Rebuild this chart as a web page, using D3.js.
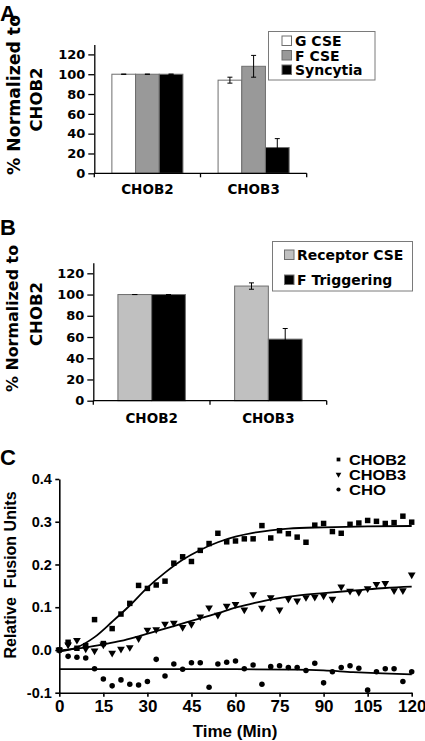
<!DOCTYPE html>
<html><head><meta charset="utf-8">
<script src="https://cdn.jsdelivr.net/npm/d3@7"></script>
<style>body{margin:0;background:#fff} svg{display:block}</style>
</head><body>
<svg id="c" width="425" height="741"></svg>
<script>
// ---------- Panel A data ----------
const catsA = ["CHOB2", "CHOB3"];
const seriesA = ["G CSE", "F CSE", "Syncytia"];
const gCSE = [100, 94];
const gCSEerr = [0, 3];
const fCSE = [100, 108];
const fCSEerr = [0, 11];
const syncytia = [100, 26];
const syncytiaErr = [0, 9];
const colorsA = ["#ffffff", "#999999", "#000000"];
const barTicks = [0, 20, 40, 60, 80, 100, 120];

// ---------- Panel B data ----------
const catsB = ["CHOB2", "CHOB3"];
const seriesB = ["Receptor CSE", "F Triggering"];
const receptorCSE = [100, 108];
const receptorErr = [0, 3];
const fTriggering = [100, 58];
const fTriggeringErr = [0, 10];
const colorsB = ["#c0c0c0", "#000000"];

// ---------- Panel C data ----------
const timeMin = [0,3,6,9,12,15,18,21,24,27,30,33,36,39,42,45,48,51,54,57,60,63,66,69,72,75,78,81,84,87,90,93,96,99,102,105,108,111,114,117,120];
const chob2 = [0.000,0.018,0.004,0.010,0.071,0.015,0.050,0.084,0.109,0.151,0.144,0.152,0.161,0.203,0.218,0.207,0.233,0.249,0.273,0.253,0.255,0.260,0.260,0.291,0.262,0.279,0.272,0.264,0.252,0.292,0.296,0.277,0.273,0.294,0.297,0.303,0.301,0.296,0.298,0.313,0.299];
const chob3 = [0.000,0.012,0.023,0.003,-0.002,0.012,-0.007,0.002,0.006,0.027,0.047,0.048,0.061,0.063,0.053,0.060,0.078,0.099,0.082,0.103,0.107,0.094,0.130,0.098,0.123,0.094,0.119,0.115,0.123,0.124,0.127,0.119,0.148,0.138,0.135,0.144,0.154,0.156,0.139,0.139,0.176];
const cho = [0.000,-0.015,-0.017,-0.019,-0.044,-0.068,-0.084,-0.070,-0.080,-0.082,-0.074,-0.022,-0.061,-0.033,-0.045,-0.030,-0.030,-0.087,-0.033,-0.029,-0.026,-0.044,-0.035,-0.080,-0.039,-0.037,-0.041,-0.041,-0.048,-0.031,-0.077,-0.051,-0.041,-0.037,-0.043,-0.094,-0.051,-0.044,-0.044,-0.074,-0.051];
// fitted curves
const fitTime2 = [0,6,12,18,24,30,36,42,48,54,60,66,72,78,90,105,120];
const fit2 = [-0.004,0.006,0.030,0.066,0.104,0.146,0.181,0.211,0.234,0.252,0.265,0.274,0.280,0.284,0.287,0.289,0.290];
const fitTime3 = [0,9,15,21,27,33,39,48,54,60,66,72,81,90,102,111,120];
const fit3 = [-0.001,0.006,0.013,0.021,0.032,0.044,0.056,0.074,0.086,0.099,0.109,0.118,0.127,0.133,0.140,0.145,0.148];
const fitTime1 = [0,60,80,90,100,110,120];
const fit1 = [-0.045,-0.045,-0.046,-0.048,-0.052,-0.055,-0.057];
const seriesC = ["CHOB2", "CHOB3", "CHO"];
const yTicksC = [-0.1, 0.0, 0.1, 0.2, 0.3, 0.4];
const xTicksC = [0, 15, 30, 45, 60, 75, 90, 105, 120];

const svg = d3.select("#c");
const FB = "'DejaVu Sans', Verdana, sans-serif";
const FA = "'Liberation Sans', Arial, sans-serif";

// ---------- generic bar panel ----------
function barPanel(o) {
  const g = svg.append("g");
  const y = d3.scaleLinear().domain([0, 130]).range([o.y0, o.yTop]);
  const x0 = d3.scaleBand().domain(o.cats).range([o.xL, o.xR]).paddingInner(o.pad).paddingOuter(o.pad / 2);
  const x1 = d3.scaleBand().domain(o.series).range([0, x0.bandwidth()]);
  // bars
  o.series.forEach((s, si) => {
    const vals = o.values[si], errs = o.errs[si];
    o.cats.forEach((c, ci) => {
      const bx = x0(c) + x1(s);
      g.append("rect")
        .attr("x", bx).attr("y", y(vals[ci]))
        .attr("width", x1.bandwidth()).attr("height", y(0) - y(vals[ci]))
        .attr("fill", o.colors[si]).attr("stroke", "#6e6e6e").attr("stroke-width", 1);
      const cx = bx + x1.bandwidth() / 2;
      const hi = y(vals[ci] + errs[ci]), lo = y(vals[ci] - errs[ci]);
      const eg = g.append("g").attr("stroke", "#000").attr("stroke-width", 1);
      eg.append("line").attr("x1", cx).attr("x2", cx).attr("y1", hi).attr("y2", lo);
      eg.append("line").attr("x1", cx - 2.5).attr("x2", cx + 2.5).attr("y1", hi).attr("y2", hi);
      eg.append("line").attr("x1", cx - 2.5).attr("x2", cx + 2.5).attr("y1", lo).attr("y2", lo);
    });
  });
  // y axis
  const ya = g.append("g").attr("transform", `translate(${o.xL},0)`)
    .call(d3.axisLeft(y).tickValues(barTicks).tickSize(6).tickSizeOuter(0).tickPadding(3));
  ya.select(".domain").attr("stroke", "#000").attr("stroke-width", 1.3);
  ya.selectAll(".tick line").attr("stroke", "#000").attr("stroke-width", 1.3);
  ya.selectAll("text").attr("font-family", FB).attr("font-weight", "bold").attr("font-size", 13).attr("fill", "#000");
  // x axis
  g.append("line").attr("x1", o.xL).attr("x2", o.xR).attr("y1", y(0)).attr("y2", y(0))
    .attr("stroke", "#000").attr("stroke-width", 1.3);
  for (let i = 0; i <= o.cats.length; i++) {
    const bx = o.xL + i * x0.step();
    g.append("line").attr("x1", bx).attr("x2", bx).attr("y1", y(0)).attr("y2", y(0) + 4)
      .attr("stroke", "#000").attr("stroke-width", 1.3);
  }
  o.cats.forEach(c => {
    g.append("text").attr("x", x0(c) + x0.bandwidth() / 2).attr("y", o.catY)
      .attr("text-anchor", "middle").attr("font-family", FB).attr("font-weight", "bold")
      .attr("font-size", 13.5).text(c);
  });
  // y label
  o.ylab.forEach(l => {
    g.append("text").attr("transform", `translate(${l.x},${l.y}) rotate(-90)`)
      .attr("text-anchor", "middle").attr("font-family", FB).attr("font-weight", "bold")
      .attr("font-size", l.fs).text(l.t);
  });
  // legend
  const L = o.legend;
  g.append("rect").attr("x", L.x).attr("y", L.y).attr("width", L.w).attr("height", L.h)
    .attr("fill", "#fff").attr("stroke", "#7a7a7a").attr("stroke-width", 1);
  o.series.forEach((s, si) => {
    const cy = L.rows[si];
    g.append("rect").attr("x", L.sx).attr("y", cy - 5).attr("width", 9.5).attr("height", 9.5)
      .attr("fill", o.colors[si]).attr("stroke", "#6e6e6e").attr("stroke-width", 1);
    g.append("text").attr("x", L.tx).attr("y", cy + 5).attr("font-family", FB)
      .attr("font-weight", "bold").attr("font-size", 14).text(s);
  });
  // panel letter
  svg.append("text").attr("x", 0).attr("y", o.letterY).attr("font-family", FA)
    .attr("font-weight", "bold").attr("font-size", 22).text(o.letter);
}

barPanel({
  letter: "A", letterY: 20.5,
  cats: catsA, series: seriesA, values: [gCSE, fCSE, syncytia], errs: [gCSEerr, fCSEerr, syncytiaErr],
  colors: colorsA, y0: 173.3, yTop: 44.5, xL: 94.3, xR: 306.7, pad: 0.331, catY: 194,
  ylab: [{t: "% Normalized to", x: 20, y: 95, fs: 17.3}, {t: "CHOB2", x: 41.5, y: 99.5, fs: 16.5}],
  legend: {x: 268.5, y: 31.5, w: 106.5, h: 48.5, sx: 282, tx: 295, rows: [41, 55.5, 70]}
});

barPanel({
  letter: "B", letterY: 235,
  cats: catsB, series: seriesB, values: [receptorCSE, fTriggering], errs: [receptorErr, fTriggeringErr],
  colors: colorsB, y0: 400.7, yTop: 262.7, xL: 93.3, xR: 326.7, pad: 0.422, catY: 422.7,
  ylab: [{t: "% Normalized to", x: 18.3, y: 318.5, fs: 15.9}, {t: "CHOB2", x: 41.7, y: 314, fs: 16.5}],
  legend: {x: 272.5, y: 241.5, w: 140, h: 49.5, sx: 284.5, tx: 297, rows: [255, 280]}
});

// ---------- Panel C ----------
const gc = svg.append("g");
const xC = d3.scaleLinear().domain([0, 120]).range([59.3, 411.7]);
const yC = d3.scaleLinear().domain([-0.1, 0.4]).range([692.7, 479]);

const yax = gc.append("g").attr("transform", `translate(${xC(0)},0)`)
  .call(d3.axisLeft(yC).tickValues(yTicksC).tickFormat(d => d.toFixed(1)).tickSize(4).tickSizeOuter(0).tickPadding(3.5));
const xax = gc.append("g").attr("transform", `translate(0,${yC(-0.1)})`)
  .call(d3.axisBottom(xC).tickValues(xTicksC).tickSize(4).tickSizeOuter(0).tickPadding(3));
[yax, xax].forEach(a => {
  a.select(".domain").attr("stroke", "#000").attr("stroke-width", 1.6);
  a.selectAll(".tick line").attr("stroke", "#000").attr("stroke-width", 1.6);
  a.selectAll("text").attr("font-family", FA).attr("font-weight", "bold").attr("fill", "#000");
});
yax.selectAll("text").attr("font-size", 14.5);
xax.selectAll("text").attr("font-size", 17);

// fitted lines
const line = d3.line().x(d => xC(d[0])).y(d => yC(d[1])).curve(d3.curveMonotoneX);
[[fitTime2, fit2], [fitTime3, fit3], [fitTime1, fit1]].forEach(([tt, vv]) => {
  gc.append("path").attr("d", line(tt.map((t, i) => [t, vv[i]])))
    .attr("fill", "none").attr("stroke", "#000").attr("stroke-width", 1.8);
});

// markers
const sym = {
  CHOB2: d3.symbol().type(d3.symbolSquare),
  CHOB3: d3.symbol().type(d3.symbolTriangle),
  CHO: d3.symbol().type(d3.symbolCircle)
};
const sizes = {CHOB2: 30, CHOB3: 26, CHO: 24};
const rot = {CHOB2: 0, CHOB3: 180, CHO: 0};
[["CHOB2", chob2], ["CHOB3", chob3], ["CHO", cho]].forEach(([name, vals]) => {
  gc.append("g").selectAll("path").data(vals).join("path")
    .attr("d", sym[name].size(sizes[name]))
    .attr("transform", (d, i) => `translate(${xC(timeMin[i])},${yC(d)}) rotate(${rot[name]})`)
    .attr("fill", "#000");
});

// legend C
const legRows = [464.5, 479.5, 494.5];
const legLen = [57, 57, 37];
seriesC.forEach((s, i) => {
  gc.append("path").attr("d", sym[s].size(14)())
    .attr("transform", `translate(338.5,${legRows[i] - 5}) rotate(${rot[s]})`).attr("fill", "#000");
  gc.append("text").attr("x", 349).attr("y", legRows[i]).attr("font-family", FA)
    .attr("font-weight", "bold").attr("font-size", 14.5)
    .attr("textLength", legLen[i]).attr("lengthAdjust", "spacingAndGlyphs")
    .text(s);
});

// axis titles
gc.append("text").attr("x", (xC(0) + xC(120)) / 2 - 0.5).attr("y", 737).attr("text-anchor", "middle")
  .attr("font-family", FA).attr("font-weight", "bold").attr("font-size", 17).text("Time (Min)");
gc.append("text").attr("transform", `translate(16,575) rotate(-90)`).attr("text-anchor", "middle")
  .style("white-space", "pre").attr("font-family", FA).attr("font-weight", "bold")
  .attr("font-size", 16).text("Relative  Fusion Units");
svg.append("text").attr("x", 0).attr("y", 465).attr("font-family", FA)
  .attr("font-weight", "bold").attr("font-size", 22).text("C");
</script>
</body></html>
